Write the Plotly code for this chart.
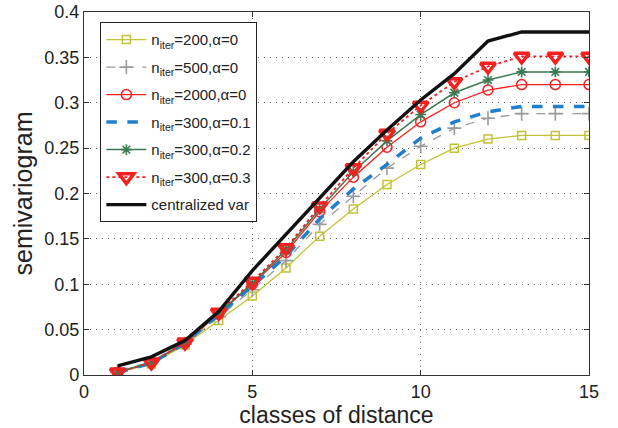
import plotly.graph_objects as go

x = list(range(1, 16))

y_200_a0 = [0.003, 0.012, 0.033, 0.060, 0.087, 0.118, 0.153, 0.183, 0.210, 0.232, 0.250, 0.260, 0.264, 0.264, 0.264]
y_500_a0 = [0.003, 0.013, 0.034, 0.064, 0.094, 0.126, 0.166, 0.197, 0.228, 0.252, 0.272, 0.283, 0.288, 0.288, 0.288]
y_2000_a0 = [0.003, 0.014, 0.035, 0.067, 0.100, 0.135, 0.180, 0.218, 0.251, 0.279, 0.300, 0.314, 0.320, 0.320, 0.320]
y_300_a01 = [0.003, 0.013, 0.035, 0.066, 0.098, 0.131, 0.172, 0.205, 0.232, 0.261, 0.279, 0.290, 0.296, 0.296, 0.296]
y_300_a02 = [0.003, 0.014, 0.036, 0.068, 0.101, 0.138, 0.183, 0.224, 0.258, 0.287, 0.311, 0.325, 0.334, 0.334, 0.334]
y_300_a03 = [0.003, 0.014, 0.036, 0.069, 0.103, 0.140, 0.186, 0.228, 0.266, 0.297, 0.323, 0.340, 0.351, 0.351, 0.351]
y_central = [0.010, 0.020, 0.038, 0.070, 0.115, 0.155, 0.196, 0.235, 0.270, 0.303, 0.332, 0.368, 0.378, 0.378, 0.378]

names = [
    "n<sub>iter</sub>=200,α=0",
    "n<sub>iter</sub>=500,α=0",
    "n<sub>iter</sub>=2000,α=0",
    "n<sub>iter</sub>=300,α=0.1",
    "n<sub>iter</sub>=300,α=0.2",
    "n<sub>iter</sub>=300,α=0.3",
    "centralized var",
]

fig = go.Figure()

fig.add_trace(go.Scatter(x=x, y=y_200_a0, name=names[0], legendgroup="g0", mode="lines+markers",
                         line=dict(color="#c2c236", width=1.3),
                         marker=dict(symbol="square-open", size=8, color="#c2c236", line=dict(width=1.5))))
fig.add_trace(go.Scatter(x=x, y=y_500_a0, name=names[1], legendgroup="g1", mode="lines+markers",
                         line=dict(color="#9a9a9a", width=1.3, dash="dash"),
                         marker=dict(symbol="cross-thin-open", size=10, color="#9a9a9a", line=dict(width=1.6, color="#9a9a9a"))))
fig.add_trace(go.Scatter(x=x, y=y_2000_a0, name=names[2], legendgroup="g2", mode="lines+markers",
                         line=dict(color="#f52020", width=1.3),
                         marker=dict(symbol="circle-open", size=10, color="#f52020", line=dict(width=1.5))))
fig.add_trace(go.Scatter(x=x, y=y_300_a01, name=names[3], legendgroup="g3", mode="lines",
                         line=dict(color="#1f7fcc", width=3.5, dash="dash")))
fig.add_trace(go.Scatter(x=x, y=y_300_a02, name=names[4], legendgroup="g4", mode="lines+markers",
                         line=dict(color="#3a7a52", width=1.5),
                         marker=dict(symbol="asterisk-open", size=9, color="#3a7a52", line=dict(width=1.6, color="#3a7a52"))))
fig.add_trace(go.Scatter(x=x, y=y_300_a03, name=names[5], legendgroup="g5", mode="lines+markers",
                         line=dict(color="#f52020", width=1.8, dash="dot"),
                         marker=dict(symbol="triangle-down-open", size=13, color="#f52020", line=dict(width=3.5, color="#f52020"))))
fig.add_trace(go.Scatter(x=x, y=y_central, name=names[6], legendgroup="g6", mode="lines",
                         line=dict(color="#111111", width=3.4)))

axis_common = dict(
    showline=True, linecolor="#333333", linewidth=1.3, mirror="ticks",
    ticks="inside", ticklen=5, tickcolor="#333333",
    showgrid=True, gridcolor="#666666", griddash="1px,5px", gridwidth=1,
    zeroline=False, automargin=False,
    tickfont=dict(size=18, color="#222222"),
)

fig.update_layout(
    width=618, height=428,
    margin=dict(l=84, r=29, t=12, b=53),
    paper_bgcolor="white", plot_bgcolor="white",
    font=dict(family="Liberation Sans, Arial, sans-serif", color="#222222"),
    xaxis=dict(range=[0, 15], tickvals=[0, 5, 10, 15],
               title=dict(text="classes of distance", font=dict(size=23), standoff=2),
               **axis_common),
    yaxis=dict(range=[0, 0.4], tickvals=[0, 0.05, 0.1, 0.15, 0.2, 0.25, 0.3, 0.35, 0.4],
               ticktext=["0", "0.05", "0.1", "0.15", "0.2", "0.25", "0.3", "0.35", "0.4"],
               title=dict(text="semivariogram", font=dict(size=25), standoff=4),
               **axis_common),
    legend=dict(x=0.032, y=0.972, xanchor="left", yanchor="top",
                bgcolor="white", bordercolor="#222222", borderwidth=1.2,
                font=dict(size=15, color="#222222"), tracegroupgap=5,
                itemwidth=40),
    showlegend=True,
)

fig.write_html("out.html", config={"displayModeBar": False},
               post_script="document.body.style.margin='0';document.body.style.overflow='hidden';")
